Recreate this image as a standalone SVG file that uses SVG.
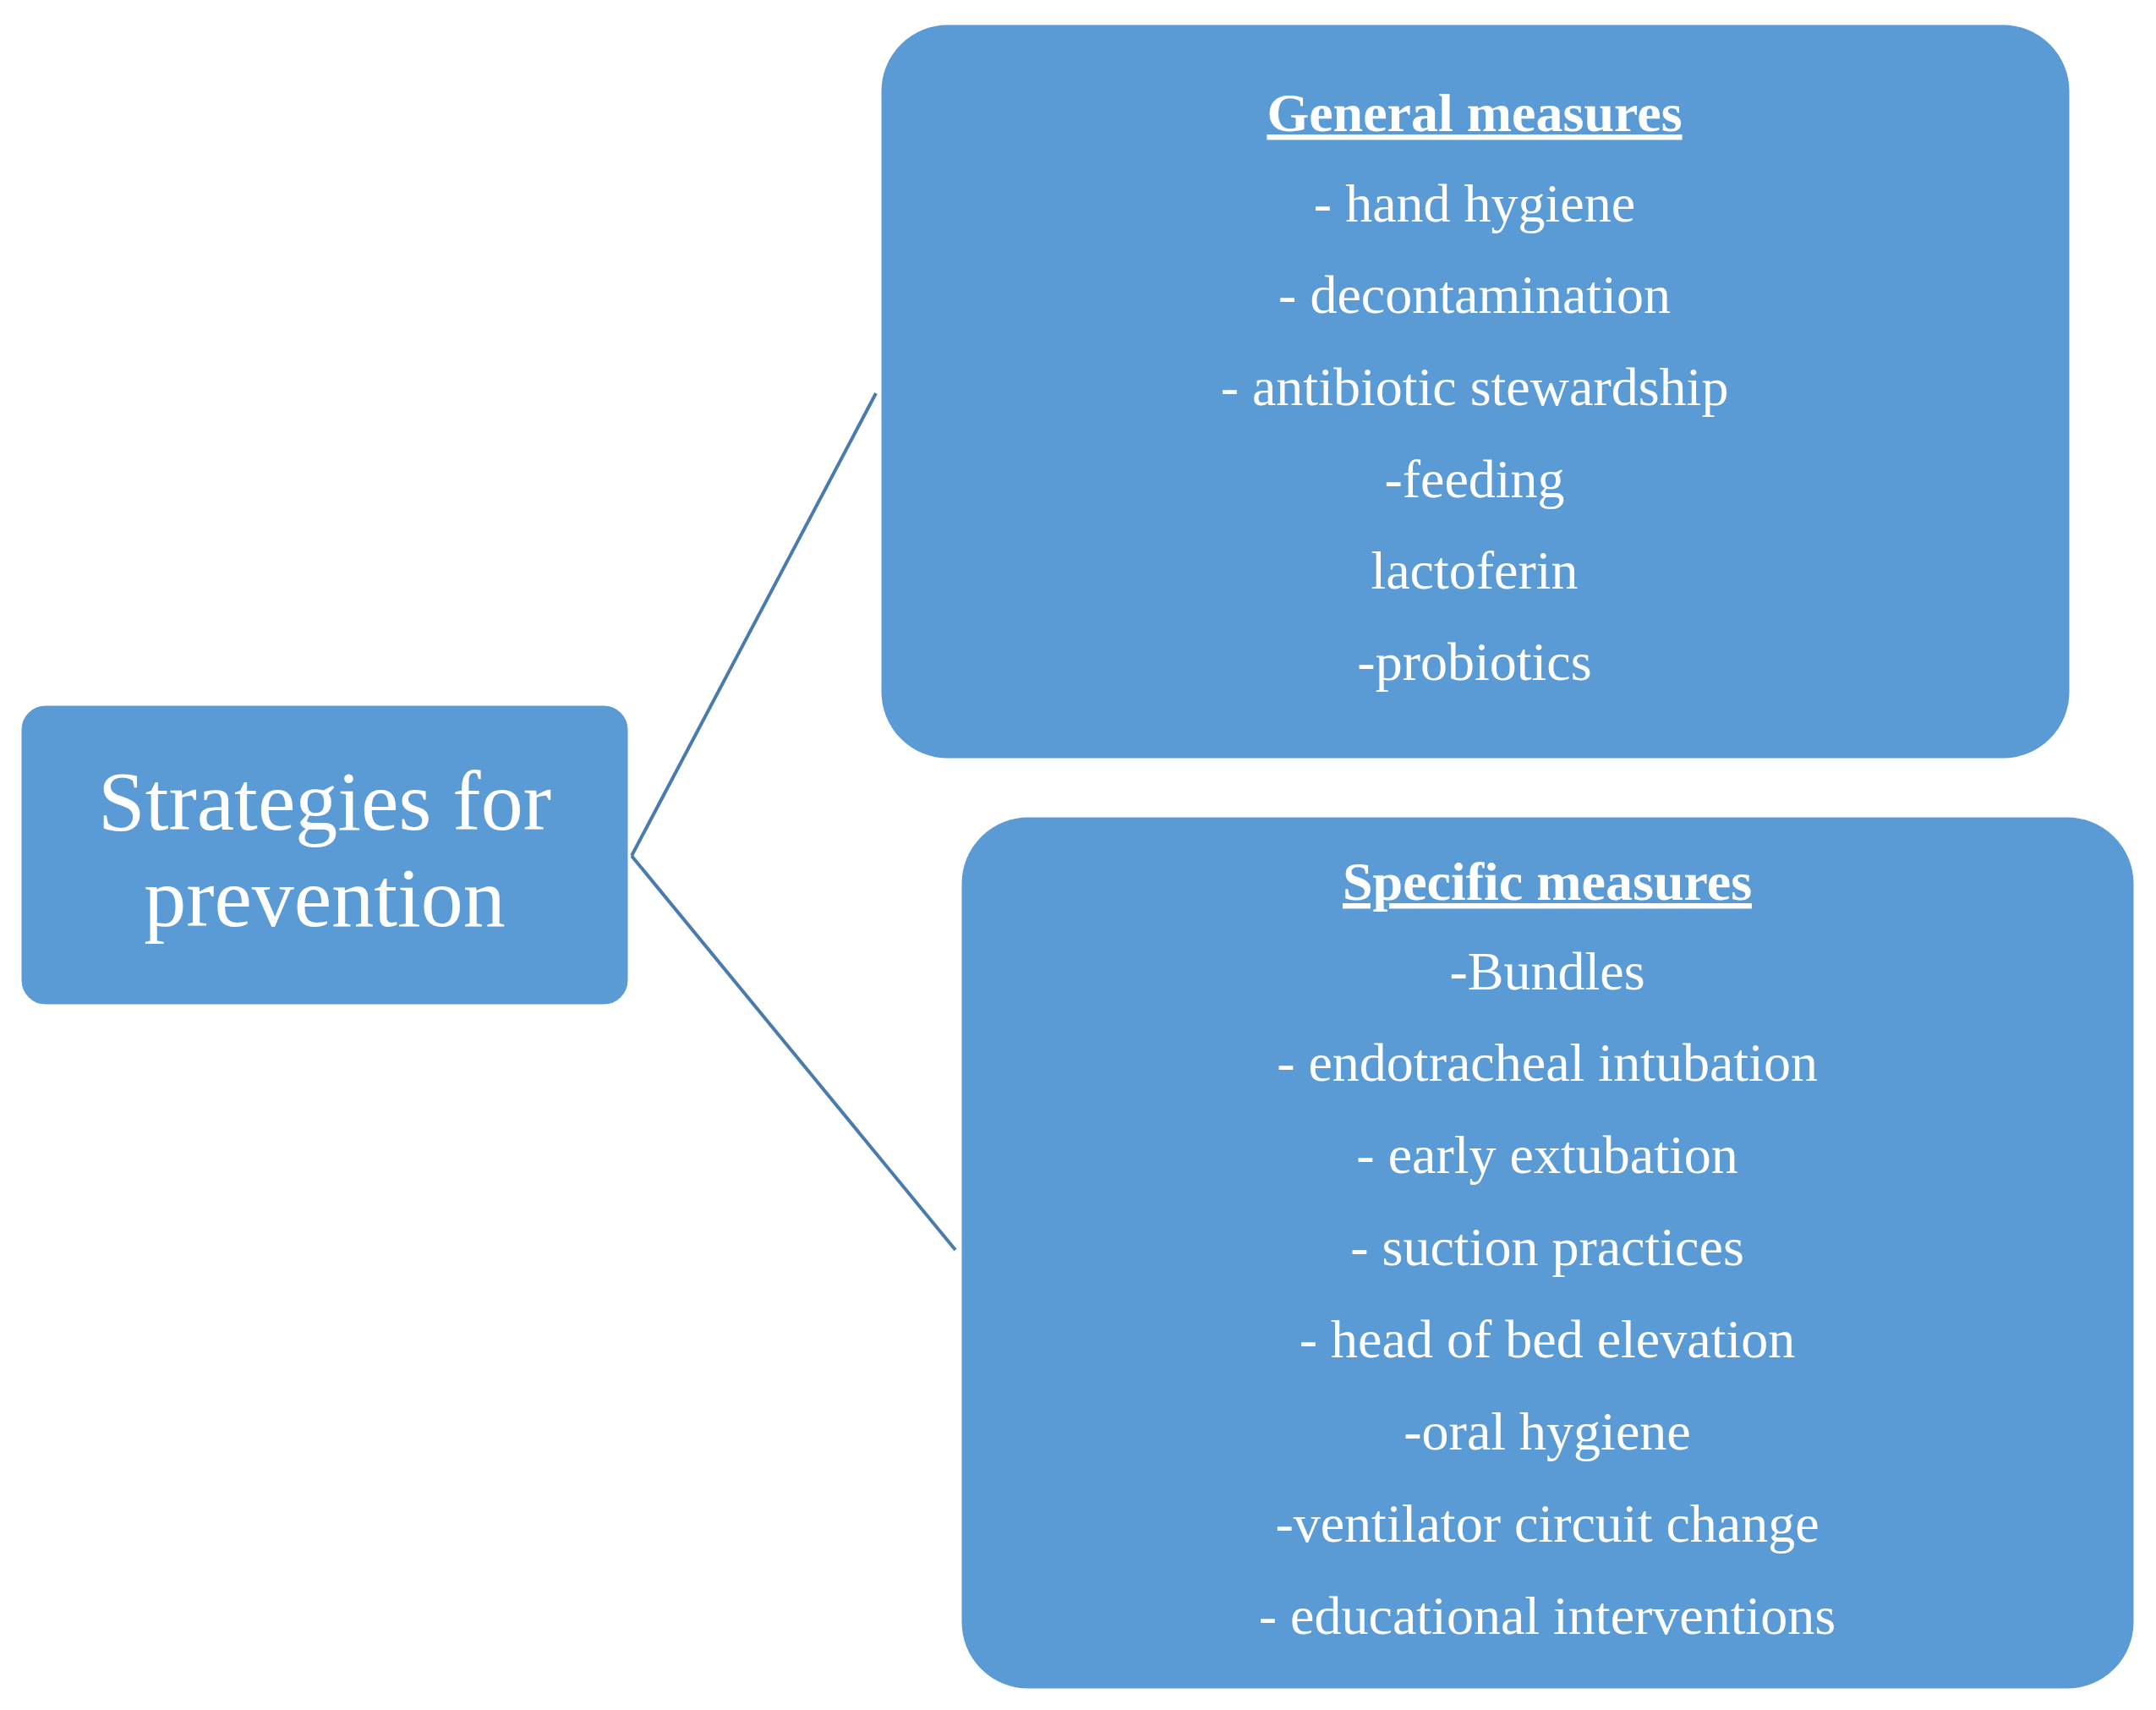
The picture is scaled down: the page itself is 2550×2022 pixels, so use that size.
<svg xmlns="http://www.w3.org/2000/svg" width="2550" height="2022" viewBox="0 0 2550 2022">
<style>
.box{fill:#5b9bd5;stroke:#ffffff;stroke-width:3}
text{font-family:"Liberation Serif",serif;fill:#ffffff;text-anchor:middle}
.it{font-size:64px}
.t{font-size:64px;font-weight:bold;text-decoration:underline}
.big{font-size:100px}
.c{stroke:#4a7bad;stroke-width:4;fill:none}
</style>
<rect width="2550" height="2022" fill="#ffffff"/>
<g id="connectors">
<line class="c" x1="747" y1="1012" x2="1036" y2="465"/>
<line class="c" x1="747" y1="1012" x2="1130" y2="1478"/>
</g>
<g id="root">
<rect class="box" x="24" y="833" width="720" height="356" rx="30"/>
<text class="big" x="384" y="981">Strategies for</text>
<text class="big" x="384" y="1095">prevention</text>
</g>
<g id="general">
<rect class="box" x="1041" y="28" width="1408" height="870" rx="80"/>
<text class="t" x="1744" y="155">General measures</text>
<text class="it" x="1744" y="262">- hand hygiene</text>
<text class="it" x="1744" y="370">- decontamination</text>
<text class="it" x="1744" y="479">- antibiotic stewardship</text>
<text class="it" x="1744" y="588">-feeding</text>
<text class="it" x="1744" y="696">lactoferin</text>
<text class="it" x="1744" y="804">-probiotics</text>
</g>
<g id="specific">
<rect class="box" x="1136" y="965" width="1389" height="1033" rx="80"/>
<text class="t" x="1830" y="1064">Specific measures</text>
<text class="it" x="1830" y="1170">-Bundles</text>
<text class="it" x="1830" y="1278">- endotracheal intubation</text>
<text class="it" x="1830" y="1387">- early extubation</text>
<text class="it" x="1830" y="1496">- suction practices</text>
<text class="it" x="1830" y="1605">- head of bed elevation</text>
<text class="it" x="1830" y="1714">-oral hygiene</text>
<text class="it" x="1830" y="1823">-ventilator circuit change</text>
<text class="it" x="1830" y="1932">- educational interventions</text>
</g>
</svg>
